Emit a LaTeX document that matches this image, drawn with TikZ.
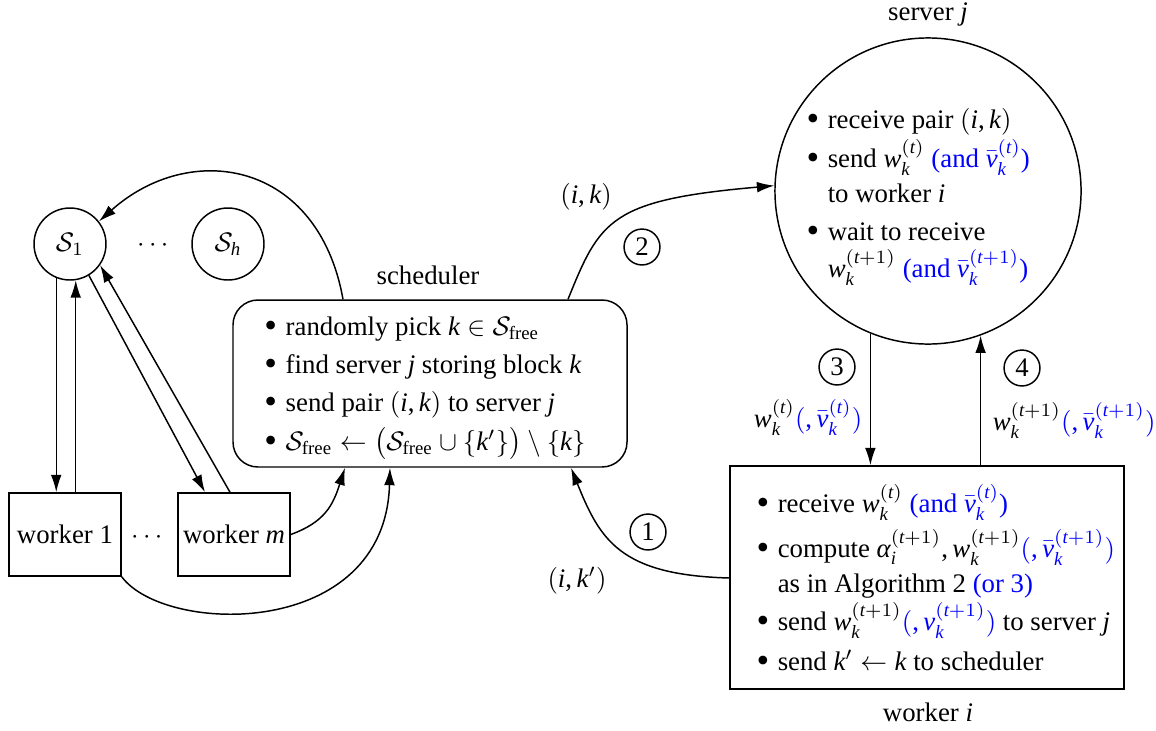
\documentclass[tikz,border=0pt]{standalone}
\usepackage{amsmath}
\usepackage{graphicx}
\usepackage{fontspec}
\setmainfont{Liberation Serif}
\newfontfamily\libfam{Liberation Serif}[NFSSFamily=libser]
\DeclareSymbolFont{libit}{TU}{libser}{m}{it}
\DeclareSymbolFont{librm}{TU}{libser}{m}{n}
\newcommand\setlet[1]{\DeclareMathSymbol{#1}{\mathalpha}{libit}{`#1}}
\newcommand\setdig[1]{\DeclareMathSymbol{#1}{\mathalpha}{librm}{`#1}}
\setlet i \setlet j \setlet k \setlet m \setlet t \setlet v \setlet w \setlet h
\setdig 1
\DeclareMathSymbol{(}{\mathopen}{librm}{`(}
\DeclareMathSymbol{)}{\mathclose}{librm}{`)}
\DeclareMathSymbol{+}{\mathbin}{librm}{`+}
\DeclareMathSymbol{,}{\mathpunct}{librm}{`,}
\newcommand\myalpha{\mathord{\text{\itshape α}}}
\usetikzlibrary{arrows.meta,calc}
\newcommand\bul{\llap{\raisebox{-1pt}{\scalebox{1.35}{\textbullet}}\hspace{3.2pt}}}
\newcommand\blue[1]{\textcolor{blue}{#1}}
\begin{document}
\begin{tikzpicture}[x=0.3731pt,y=0.3731pt, line width=0.55pt,
  >={Latex[length=6.5pt,width=4pt]},
  setcirc/.style={draw,circle,minimum size=26.86pt,inner sep=0pt},
  wbox/.style={draw,rectangle,minimum width=41.8pt,minimum height=31pt,inner sep=0pt},
  bigbox/.style={draw,rectangle,minimum width=147pt,inner sep=0pt},
  txt/.style={anchor=base west,inner sep=0pt},
  lbl/.style={anchor=base,inner sep=0pt},
  num/.style={draw,circle,minimum size=13.4pt,inner sep=0pt}]
\useasboundingbox (0,0) rectangle (1156,-730);

% left part
\node[setcirc] (S1) at (70,-244) {$\mathcal{S}_1$};
\node[setcirc] (Sh) at (228,-244) {$\mathcal{S}_h$};
\node[lbl] (dotsA) at (155,-251) {$\cdots$};
\node[wbox] (w1) at (65,-534.5) {worker 1};
\node[wbox] (wm) at (234,-534.5) {worker $m$};
\node[lbl] (dotsB) at (149,-543) {$\cdots$};

% scheduler
\node[bigbox,rounded corners=9.3pt,minimum height=62.3pt] (sched) at (430,-383.5) {};
\node[lbl] (schedlbl) at (428,-284) {scheduler};
\node[txt] (sc1) at (285,-335) {\bul randomly pick $k\in\mathcal{S}_{\text{free}}$};
\node[txt] (sc2) at (285,-373) {\bul find server $j$ storing block $k$};
\node[txt] (sc3) at (285,-411) {\bul send pair $(i,k)$ to server $j$};
\node[txt] (sc4) at (285,-450) {\bul $\mathcal{S}_{\text{free}}\leftarrow\bigl(\mathcal{S}_{\text{free}}\cup\{k'\}\bigr)\setminus\{k\}$};

% server
\node[draw,circle,minimum size=114.2pt,inner sep=0pt] (server) at (928,-191) {};
\node[lbl] (serverlbl) at (928,-20) {server $j$};
\node[txt] (sv1) at (827,-128) {\bul receive pair $(i,k)$};
\node[txt] (sv2) at (827,-167) {\bul send $w_k^{(t)}$ \blue{(and $\bar v_k^{(t)}$)}};
\node[txt] (sv3) at (827,-202) {to worker $i$};
\node[txt] (sv4) at (827,-240) {\bul wait to receive};
\node[txt] (sv5) at (827,-277) {$w_k^{(t+1)}$ \blue{(and $\bar v_k^{(t+1)}$)}};

% worker i
\node[bigbox,minimum height=83.2pt] (wi) at (927,-577.5) {};
\node[lbl] (wilbl) at (928,-721) {worker $i$};
\node[txt] (wl1) at (777,-512) {\bul receive $w_k^{(t)}$ \blue{(and $\bar v_k^{(t)}$)}};
\node[txt] (wl2) at (777,-557) {\bul compute $\myalpha_i^{(t+1)}, w_k^{(t+1)}$\blue{$(,\bar v_k^{(t+1)})$}};
\node[txt] (wl3) at (777,-592) {as in Algorithm 2 \blue{(or 3)}};
\node[txt] (wl4) at (777,-630) {\bul send $w_k^{(t+1)}$\blue{$(,v_k^{(t+1)})$} to server $j$};
\node[txt] (wl5) at (777,-670) {\bul send $k'\leftarrow k$ to scheduler};

% circled numbers and labels
\node[num] (n1) at (648,-532) {1};
\node[num] (n2) at (642,-247) {2};
\node[num] (n3) at (837,-367) {3};
\node[num] (n4) at (1022,-368) {4};
\node[lbl] (lab2) at (586,-203) {$(i,k)$};
\node[lbl] (lab1) at (577,-587) {$(i,k')$};
\node[anchor=base east,inner sep=0pt] (lab3) at (863,-427) {$w_k^{(t)}$\blue{$(,\bar v_k^{(t)})$}};
\node[anchor=base west,inner sep=0pt] (lab4) at (992,-430) {$w_k^{(t+1)}$\blue{$(,\bar v_k^{(t+1)})$}};

% coordinates
\coordinate (wmA) at ($(wm.north)+(-29,0)$);
\coordinate (wmB) at ($(wm.north)+(-4,0)$);
\coordinate (schA) at ($(sched.north)+(-87,0)$);
\coordinate (schB) at ($(sched.north)+(138,0)$);
\coordinate (schC) at ($(sched.south)+(141,0)$);
\coordinate (schD) at ($(sched.south)+(-85,0)$);
\coordinate (schE) at ($(sched.south)+(-40,0)$);
\coordinate (wiL) at ($(wi.west)+(0,-0.5)$);

% left arrows
\draw[->] (S1.248.8) -- (S1.248.8 |- w1.north);
\draw[->] (S1.279.6 |- w1.north) -- (S1.279.6);
\draw[->] (S1.301) -- (wmA);
\draw[->] (wmB) -- (S1.325.6);
\draw[->] (schA) .. controls (318,-160) and (190,-140) .. (S1.38);
\draw[->] (wm.east) .. controls (325,-522) and (333,-505) .. (schD);
\draw[->] (w1.south east) .. controls (165,-635) and (385,-640) .. (schE);

% right arrows
\draw[->] (schB) .. controls (600,-220) and (610,-200) .. (server.178);
\draw[->] (wiL) .. controls (620,-575) and (600,-540) .. (schC);
\draw[->] (server.248.5) -- (server.248.5 |- wi.north);
\draw[->] (server.290.7 |- wi.north) -- (server.290.7);
\end{tikzpicture}
\end{document}
